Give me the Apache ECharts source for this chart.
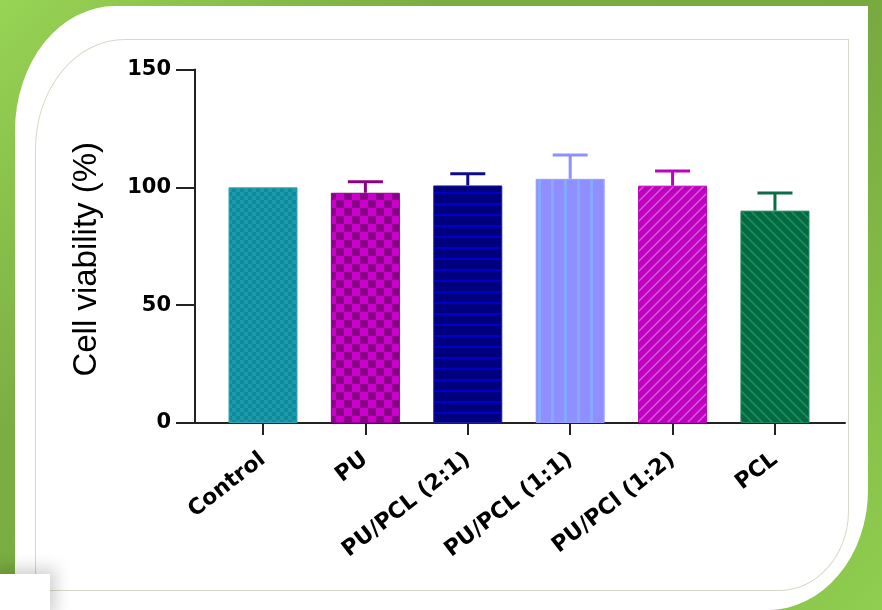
<!DOCTYPE html>
<html>
<head>
<meta charset="utf-8">
<script src="https://cdn.jsdelivr.net/npm/echarts@6/dist/echarts.min.js"></script>
<style>
  html, body { margin: 0; padding: 0; }
  body { width: 882px; height: 610px; position: relative; overflow: hidden;
         background: linear-gradient(135deg, #97d454 0%, #7aad42 30%, #78aa40 60%, #8fce4f 100%); }
  #panel { position: absolute; left: 15px; top: 6px; width: 853px; height: 604px; background: #fff;
           border-top-left-radius: 100px 125px; border-bottom-right-radius: 100px 120px; }
  #inner { position: absolute; left: 35px; top: 39px; width: 812px; height: 550px;
           border: 1px solid #d8d8c8; border-top-left-radius: 90px 110px; border-bottom-right-radius: 70px 80px; }
  #corner { position: absolute; left: 0; top: 574px; width: 50px; height: 36px; background: #fff;
            box-shadow: 0 0 16px 6px rgba(0,0,0,0.18); }
  #chart { position: absolute; left: 0; top: 0; width: 882px; height: 610px; }
</style>
</head>
<body>
<div id="panel"></div>
<div id="inner"></div>
<div id="corner"></div>
<div id="chart"></div>
<script>
// ---- data ----
const categories = ['Control', 'PU', 'PU/PCL (2:1)', 'PU/PCL (1:1)', 'PU/PCl (1:2)', 'PCL'];
const means = [100, 97.7, 100.8, 103.6, 100.7, 90.1];
const errors = [0, 4.7, 5.0, 10.1, 6.2, 7.5];
const yTicks = [0, 50, 100, 150];

// ---- styling helpers (patterns) ----
function pat(size, bg, draw) {
  const c = document.createElement('canvas');
  c.width = size; c.height = size;
  const g = c.getContext('2d');
  g.fillStyle = bg; g.fillRect(0, 0, size, size);
  draw(g, size);
  return { image: c, repeat: 'repeat' };
}
const styles = [
  { border: '#2fa6b6', fill: pat(8, '#0f8a9b', (g) => { g.fillStyle = '#1c9aab'; g.fillRect(0,0,4,4); g.fillRect(4,4,4,4); }) },
  { border: '#8b008b', fill: pat(16, '#8b008b', (g) => { g.fillStyle = '#cc00cc'; g.fillRect(0,0,8,8); g.fillRect(8,8,8,8); }) },
  { border: '#1a1a9a', fill: pat(11, '#00007f', (g) => { g.fillStyle = '#0000c8'; g.fillRect(0,5,11,2); }) },
  { border: '#9a9aff', fill: pat(13, '#8f8fff', (g) => { g.fillStyle = '#86a8ff'; g.fillRect(5,0,3,13); }) },
  { border: '#c000c0', fill: pat(10, '#c000c0', (g) => { g.strokeStyle = '#d55ad5'; g.lineWidth = 1.5; g.beginPath(); g.moveTo(0,10); g.lineTo(10,0); g.moveTo(-5,5); g.lineTo(5,-5); g.moveTo(5,15); g.lineTo(15,5); g.stroke(); }) },
  { border: '#1f7f55', fill: pat(10, '#006b42', (g) => { g.strokeStyle = '#1f8a5a'; g.lineWidth = 1.8; g.beginPath(); g.moveTo(0,0); g.lineTo(10,10); g.moveTo(-5,5); g.lineTo(5,15); g.moveTo(5,-5); g.lineTo(15,5); g.stroke(); }) }
];
const lineColors = ['#0f8a9b', '#8b008b', '#0d0d8a', '#8f8fff', '#c000c0', '#0d6b45'];

const idx = categories.map((_, i) => i);
const barData = means.map((m, i) => ({
  value: [i, m],
  itemStyle: { color: styles[i].fill, borderColor: styles[i].border, borderWidth: 1 }
}));
const errData = means.map((m, i) => [i, m, errors[i]]);

const chart = echarts.init(document.getElementById('chart'), null, { renderer: 'canvas' });
chart.setOption({
  backgroundColor: 'transparent',
  animation: false,
  grid: { left: 195, right: 37, top: 69.5, bottom: 187, containLabel: false },
  xAxis: {
    type: 'value',
    min: -0.664, max: 5.684,
    splitLine: { show: false },
    axisLine: { show: true, onZero: false, lineStyle: { color: '#222', width: 2 } },
    axisTick: { show: true, length: 12, customValues: idx, lineStyle: { color: '#222', width: 2 } },
    axisLabel: {
      customValues: idx,
      formatter: (v) => categories[Math.round(v)] || '',
      rotate: 38, margin: 34,
      fontFamily: 'DejaVu Sans', fontWeight: 'bold', fontSize: 22, color: '#000'
    }
  },
  yAxis: {
    type: 'value', min: 0, max: 150, interval: 50,
    name: 'Cell viability (%)', nameLocation: 'middle', nameGap: 92,
    nameTextStyle: { fontFamily: 'Liberation Sans', fontSize: 33, color: '#000', padding: [0, 26, 0, 0] },
    splitLine: { show: false },
    axisLine: { show: true, onZero: false, lineStyle: { color: '#222', width: 2 } },
    axisTick: { show: true, length: 19, lineStyle: { color: '#222', width: 2 } },
    axisLabel: { margin: 24, fontFamily: 'DejaVu Sans', fontWeight: 'bold', fontSize: 21, color: '#000',
                 formatter: (v) => yTicks.includes(v) ? String(v) : '' }
  },
  series: [
    {
      type: 'custom',
      z: 1,
      data: errData,
      renderItem: function (params, api) {
        const i = api.value(0), m = api.value(1), e = api.value(2);
        if (!e) return null;
        const base = api.coord([i, m]);
        const top = api.coord([i, m + e]);
        const half = 17.5;
        const col = lineColors[params.dataIndex];
        return {
          type: 'group',
          children: [
            { type: 'line', shape: { x1: base[0], y1: base[1], x2: top[0], y2: top[1] }, style: { stroke: col, lineWidth: 3 } },
            { type: 'line', shape: { x1: top[0] - half, y1: top[1], x2: top[0] + half, y2: top[1] }, style: { stroke: col, lineWidth: 3 } }
          ]
        };
      }
    },
    {
      type: 'bar',
      z: 2,
      barWidth: 69,
      data: barData
    }
  ]
});
</script>
</body>
</html>
